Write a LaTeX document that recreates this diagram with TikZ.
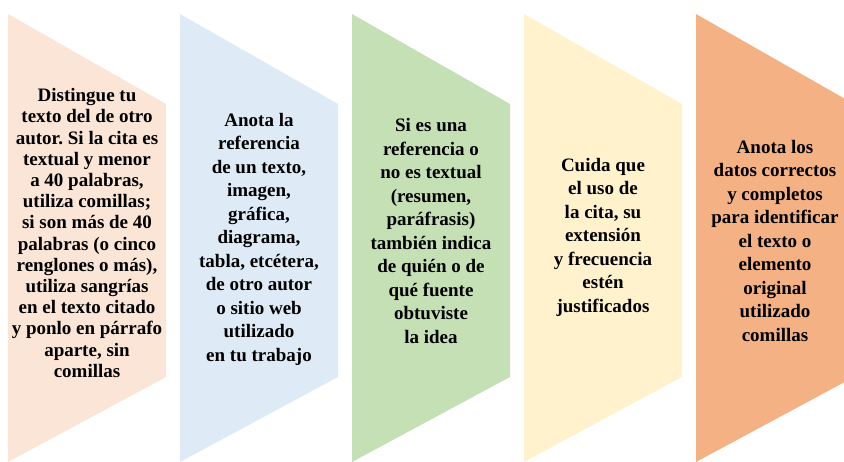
\documentclass[tikz,border=0pt]{standalone}
\usepackage{fontspec}
\setmainfont{Liberation Serif}
\usepackage{tikz}
\usetikzlibrary{positioning}
\frenchspacing
\definecolor{peach}{HTML}{FBE5D6}
\definecolor{skyblue}{HTML}{DEEBF7}
\definecolor{leafgreen}{HTML}{C5E0B4}
\definecolor{cream}{HTML}{FFF2CC}
\definecolor{apricot}{HTML}{F4B183}
\tikzset{
	label text/.style={align=center, font=\bfseries\fontsize{19}{23.5}\selectfont, text=black, inner sep=0pt}, % text inside each panel
}
% panel: left edge, colour
\newcommand{\panel}[2]{\fill[#2] (#1,14) -- ++(158,90) -- ++(0,273) -- (#1,462) -- cycle;}

\begin{document}
\begin{tikzpicture}[x=1pt, y=-1pt]
	\useasboundingbox (0,0) rectangle (844,462);
	\clip (0,0) rectangle (844,462);
	\panel{8}{peach}
	\panel{180}{skyblue}
	\panel{352}{leafgreen}
	\panel{524}{cream}
	\panel{696}{apricot}
	\node[label text, font=\bfseries\fontsize{19}{21.2}\selectfont] (distingue) at (87,233) {Distingue tu\\texto del de otro\\autor. Si la cita es\\textual y menor\\a 40 palabras,\\utiliza comillas;\\si son más de 40\\palabras (o cinco\\renglones o más),\\utiliza sangrías\\en el texto citado\\y ponlo en párrafo\\aparte, sin\\comillas};
	\node[label text] (anota) at (259,239) {Anota la\\referencia\\de un texto,\\imagen,\\gráfica,\\diagrama,\\tabla, etcétera,\\de otro autor\\o sitio web\\utilizado\\en tu trabajo};
	\node[label text] (referencia) at (431,231) {Si es una\\referencia o\\no es textual\\(resumen,\\paráfrasis)\\también indica\\de quién o de\\qué fuente\\obtuviste\\la idea};
	\node[label text] (cuida) at (603,237) {Cuida que\\el uso de\\la cita, su\\extensión\\y frecuencia\\estén\\justificados};
	\node[label text] (datos) at (775,241) {Anota los\\datos correctos\\y completos\\para identificar\\el texto o\\elemento\\original\\utilizado\\comillas};
\end{tikzpicture}
\end{document}
